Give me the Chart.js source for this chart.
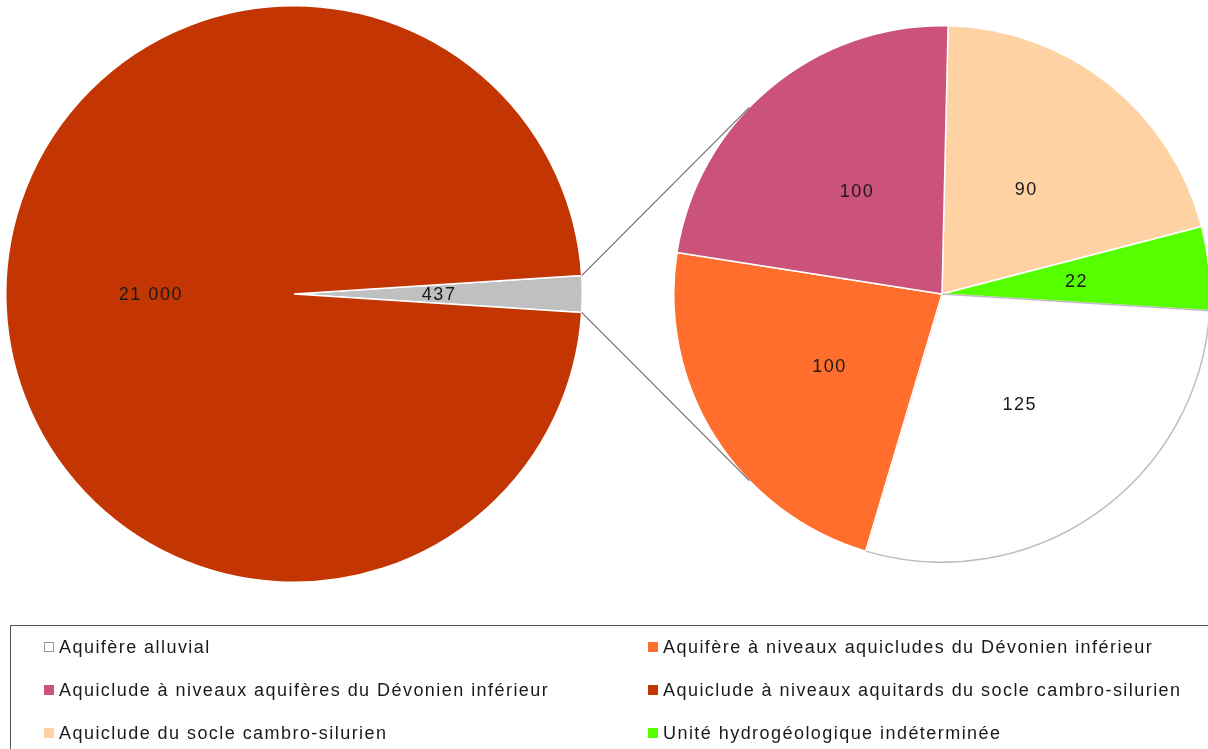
<!DOCTYPE html>
<html>
<head>
<meta charset="utf-8">
<script src="https://cdn.jsdelivr.net/npm/chart.js@4"></script>
<style>
  html, body { margin: 0; padding: 0; background: #fff; }
  body { width: 1208px; height: 749px; overflow: hidden; position: relative; font-family: "Liberation Sans", Arial, sans-serif; }
  #mainWrap { position: absolute; left: 5px; top: 5px; width: 578px; height: 578px; }
  #subWrap { position: absolute; left: 673px; top: 25px; width: 538px; height: 538px; }
  #links { position: absolute; left: 0; top: 0; pointer-events: none; }
  #legendBox { position: absolute; left: 10px; top: 625px; width: 1220px; height: 140px; border: 1px solid #555; }
  .item { position: absolute; font-size: 18px; letter-spacing: 1.45px; color: #1a1a1a; white-space: nowrap; line-height: 20px; }
  .item span.box { display: inline-block; width: 8px; height: 8px; margin-right: 5px; vertical-align: 1px; }
</style>
</head>
<body>
<div id="mainWrap"><canvas id="mainPie"></canvas></div>
<div id="subWrap"><canvas id="subPie"></canvas></div>
<canvas id="links" width="1208" height="749"></canvas>
<div id="legendBox"></div>

<script>
// Main pie: the gray slice groups the small units shown on the right
const mainLabels = ['Autres unités', 'Aquiclude à niveaux aquitards du socle cambro-silurien'];
const mainValues = [437, 21000];
const mainColors = ['#c0c0c0', '#c33603'];

// Detail pie (order as drawn clockwise from the top)
const subLabels = [
    'Aquiclude du socle cambro-silurien',
    'Unité hydrogéologique indéterminée',
    'Aquifère alluvial',
    'Aquifère à niveaux aquicludes du Dévonien inférieur',
    'Aquiclude à niveaux aquifères du Dévonien inférieur'
];
const subValues = [90, 22, 125, 100, 100];
const subColors = ['#ffd2a3', '#55ff00', '#ffffff', '#ff6e2c', '#cb5279'];
const subBorders = ['#ffffff', '#ffffff', '#bdbdbd', '#ffffff', '#ffffff'];

// Legend order
const legendLabels = [
    'Aquifère alluvial',
    'Aquifère à niveaux aquicludes du Dévonien inférieur',
    'Aquiclude à niveaux aquifères du Dévonien inférieur',
    'Aquiclude à niveaux aquitards du socle cambro-silurien',
    'Aquiclude du socle cambro-silurien',
    'Unité hydrogéologique indéterminée'
];
const legendColors = ['#ffffff', '#ff6e2c', '#cb5279', '#c33603', '#ffd2a3', '#55ff00'];

function formatNumber(v) {
    return String(v).replace(/\B(?=(\d{3})+(?!\d))/g, ' ');
}

// Simple value labels in the middle of each slice
const valueLabels = {
    id: 'valueLabels',
    afterDatasetsDraw(chart) {
        const ctx = chart.ctx;
        const meta = chart.getDatasetMeta(0);
        const values = chart.data.datasets[0].data;
        ctx.save();
        ctx.font = '18px "Liberation Sans", Arial, sans-serif';
        ctx.letterSpacing = '1.5px';
        ctx.fillStyle = '#1a1a1a';
        ctx.textAlign = 'center';
        ctx.textBaseline = 'middle';
        meta.data.forEach(function(arc, i) {
            const p = arc.tooltipPosition();
            ctx.fillText(formatNumber(values[i]), p.x + 1, p.y + 1);
        });
        ctx.restore();
    }
};

const mainTotal = mainValues.reduce((a, b) => a + b, 0);

const mainChart = new Chart(document.getElementById('mainPie'), {
    type: 'pie',
    data: {
        labels: mainLabels,
        datasets: [{
            data: mainValues,
            backgroundColor: mainColors,
            borderColor: '#ffffff',
            borderWidth: 1.5
        }]
    },
    options: {
        responsive: true,
        maintainAspectRatio: false,
        animation: false,
        rotation: 90 - (mainValues[0] / mainTotal) * 180,
        layout: { padding: 0 },
        plugins: { legend: { display: false }, tooltip: { enabled: false } }
    },
    plugins: [valueLabels]
});

const subChart = new Chart(document.getElementById('subPie'), {
    type: 'pie',
    data: {
        labels: subLabels,
        datasets: [{
            data: subValues,
            backgroundColor: subColors,
            borderColor: subBorders,
            borderWidth: 1.5
        }]
    },
    options: {
        responsive: true,
        maintainAspectRatio: false,
        animation: false,
        rotation: 1.3,
        layout: { padding: 0 },
        plugins: { legend: { display: false }, tooltip: { enabled: false } }
    },
    plugins: [valueLabels]
});

// Connector lines from the gray slice to the detail pie
function drawLinks() {
    const c = document.getElementById('links');
    const ctx = c.getContext('2d');
    ctx.clearRect(0, 0, c.width, c.height);
    const mRect = mainChart.canvas.getBoundingClientRect();
    const sRect = subChart.canvas.getBoundingClientRect();
    const arc = mainChart.getDatasetMeta(0).data[0];
    const sArc = subChart.getDatasetMeta(0).data[0];
    const mx = mRect.left + arc.x, my = mRect.top + arc.y;
    const sx = sRect.left + sArc.x, sy = sRect.top + sArc.y;
    const r = arc.outerRadius, sr = sArc.outerRadius;
    const ends = [
        [arc.startAngle, -Math.PI * 0.755],
        [arc.endAngle, Math.PI * 0.755]
    ];
    ctx.strokeStyle = '#6e6e6e';
    ctx.lineWidth = 1.2;
    ends.forEach(function(e) {
        ctx.beginPath();
        ctx.moveTo(mx + r * Math.cos(e[0]), my + r * Math.sin(e[0]));
        ctx.lineTo(sx + sr * Math.cos(e[1]), sy + sr * Math.sin(e[1]));
        ctx.stroke();
    });
}
drawLinks();

// HTML legend, two columns
const legendBox = document.getElementById('legendBox');
legendLabels.forEach(function(label, i) {
    const item = document.createElement('div');
    item.className = 'item';
    item.style.left = (i % 2 === 0 ? 33 : 637) + 'px';
    item.style.top = (11 + Math.floor(i / 2) * 43) + 'px';
    const box = document.createElement('span');
    box.className = 'box';
    box.style.background = legendColors[i];
    box.style.border = '1px solid ' + (legendColors[i] === '#ffffff' ? '#9a9a9a' : legendColors[i]);
    item.appendChild(box);
    item.appendChild(document.createTextNode(label));
    legendBox.appendChild(item);
});
</script>
</body>
</html>
